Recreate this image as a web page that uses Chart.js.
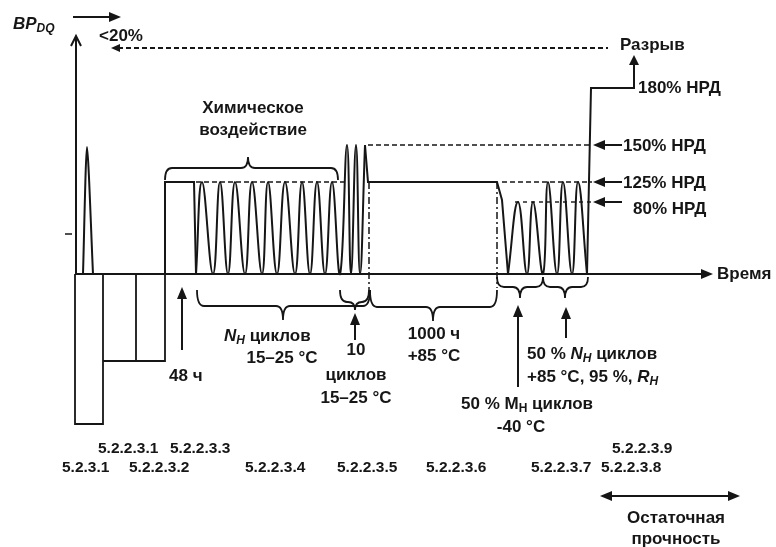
<!DOCTYPE html>
<html lang="ru">
<head>
<meta charset="utf-8">
<title>Последовательность испытаний BP_DQ</title>
<script src="https://cdn.jsdelivr.net/npm/chart.js@4.4.1/dist/chart.umd.min.js"></script>
<style>
  html, body { margin: 0; padding: 0; background: #fff; }
  #wrap { position: relative; width: 776px; height: 547px; }
</style>
</head>
<body>
<div id="wrap"><canvas id="chart"></canvas></div>
<script>
// Время и давление в условных единицах схемы (давление - высота над нулевой линией)
const P80 = 72, P125 = 92, P150 = 129, P180 = 186, P_BURST = 226;

// начальный пик
const proofT = [83, 87, 93];
const proofP = [0, 127, 0];

// прямоугольники ниже нуля (null - разрыв линии)
const vacT = [75, 75, 103, 103, 103, 103, 165, 165, 136, 136, 136];
const vacP = [0, -150, -150, 0, null, -87, -87, 0, null, -87, 0];

// выдержка 48 ч
const holdT = [165, 165, 194, 196];
const holdP = [0, P125, P125, 0];

// циклы при 15-25 °C (химическое воздействие) и 10 циклов до 150 %
const chemT = [196, 202, 213, 220, 228, 235, 245, 252, 262, 268, 277, 285, 295, 302, 310, 317, 325, 332, 340, 347, 351, 356, 360, 365];
const chemP = [0, P125, 0, P125, 0, P125, 0, P125, 0, P125, 0, P125, 0, P125, 0, P125, 0, P125, 0, P150, 0, P150, 0, P150];

// 1000 ч при +85 °C
const heatT = [365, 368, 497, 502, 508];
const heatP = [P150, P125, P125, 74, 0];

// 50 % циклов при -40 °C и 50 % циклов при +85 °C
const climT = [508, 518, 527, 533, 543, 548, 557, 563, 572, 578, 587];
const climP = [0, P80, 0, P80, 0, P125, 0, P125, 0, P125, 0];

// остаточная прочность до разрыва
const burstT = [587, 591, 634, 634];
const burstP = [0, P180, P180, 216];

// пунктирные уровни
const lvlChemT = [180, 345], lvlChemP = [P125, P125];
const lvl150T = [368, 592], lvl150P = [P150, P150];
const lvl125T = [502, 592], lvl125P = [P125, P125];
const lvl80T = [515, 592], lvl80P = [P80, P80];
const lvlBurstT = [118, 608], lvlBurstP = [P_BURST, P_BURST];

// штрихпунктирные границы этапов
const markAT = [369, 369], markAP = [P125, -16];
const markBT = [497, 497], markBP = [P125, -14];

// номера пунктов
const sectionsTop = ['5.2.2.3.1', '5.2.2.3.3', '5.2.2.3.9'];
const sectionsTopT = [98, 170, 612];
const sectionsBottom = ['5.2.3.1', '5.2.2.3.2', '5.2.2.3.4', '5.2.2.3.5', '5.2.2.3.6', '5.2.2.3.7', '5.2.2.3.8'];
const sectionsBottomT = [62, 129, 245, 337, 426, 531, 601];

const INK = '#161616';
const FONT = '"Liberation Sans", Arial, sans-serif';

function pts(t, p) {
  return t.map((v, i) => ({ x: v, y: p[i] }));
}

function line(t, p, extra) {
  return Object.assign({
    data: pts(t, p),
    showLine: true,
    borderColor: INK,
    borderWidth: 2,
    pointRadius: 0,
    tension: 0,
    spanGaps: false
  }, extra || {});
}

function arrowHead(ctx, x, y, dir, len, half) {
  // dir: 'up' | 'down' | 'left' | 'right'
  ctx.beginPath();
  if (dir === 'up') { ctx.moveTo(x, y); ctx.lineTo(x - half, y + len); ctx.lineTo(x + half, y + len); }
  if (dir === 'down') { ctx.moveTo(x, y); ctx.lineTo(x - half, y - len); ctx.lineTo(x + half, y - len); }
  if (dir === 'left') { ctx.moveTo(x, y); ctx.lineTo(x + len, y - half); ctx.lineTo(x + len, y + half); }
  if (dir === 'right') { ctx.moveTo(x, y); ctx.lineTo(x - len, y - half); ctx.lineTo(x - len, y + half); }
  ctx.closePath();
  ctx.fill();
}

function brace(ctx, x1, x2, ye, ym, xt, yt) {
  const r = 7;
  ctx.beginPath();
  ctx.moveTo(x1, ye);
  ctx.quadraticCurveTo(x1, ym, x1 + r, ym);
  ctx.lineTo(xt - r, ym);
  ctx.quadraticCurveTo(xt, ym, xt, yt);
  ctx.quadraticCurveTo(xt, ym, xt + r, ym);
  ctx.lineTo(x2 - r, ym);
  ctx.quadraticCurveTo(x2, ym, x2, ye);
  ctx.stroke();
}

// текст с курсивом и нижними индексами: [текст, 'i' | 's' | 'is' | '']
function rich(ctx, parts, x, y, align, size) {
  size = size || 17;
  const fontOf = st => (st.includes('i') ? 'italic ' : '') + 'bold ' + (st.includes('s') ? Math.round(size * 0.72) : size) + 'px ' + FONT;
  let w = 0;
  parts.forEach(([t, st]) => { ctx.font = fontOf(st); w += ctx.measureText(t).width; });
  let cx = align === 'center' ? x - w / 2 : x;
  ctx.textAlign = 'left';
  ctx.textBaseline = 'middle';
  parts.forEach(([t, st]) => {
    ctx.font = fontOf(st);
    ctx.fillText(t, cx, y + (st.includes('s') ? 5 : 0));
    cx += ctx.measureText(t).width;
  });
}

const annotations = {
  id: 'annotations',
  afterDatasetsDraw(chart) {
    const { ctx } = chart;
    const xs = chart.scales.x, ys = chart.scales.y;
    const X = v => xs.getPixelForValue(v);
    const Y = v => ys.getPixelForValue(v);
    ctx.save();
    ctx.strokeStyle = INK;
    ctx.fillStyle = INK;
    ctx.lineWidth = 2;

    // ось давления
    ctx.beginPath();
    ctx.moveTo(X(76), Y(0)); ctx.lineTo(X(76), Y(238));
    ctx.stroke();
    ctx.beginPath();
    ctx.moveTo(X(71), Y(228)); ctx.lineTo(X(76), Y(238)); ctx.lineTo(X(81), Y(228));
    ctx.stroke();
    ctx.lineWidth = 1.5;
    ctx.beginPath();
    ctx.moveTo(X(65), Y(40)); ctx.lineTo(X(72), Y(40));
    ctx.stroke();

    // ось времени
    ctx.lineWidth = 2;
    ctx.beginPath();
    ctx.moveTo(X(75), Y(0)); ctx.lineTo(X(702), Y(0));
    ctx.stroke();
    arrowHead(ctx, X(713), Y(0), 'right', 12, 5);

    // стрелка BP_DQ
    ctx.beginPath();
    ctx.moveTo(X(73), Y(257)); ctx.lineTo(X(110), Y(257));
    ctx.stroke();
    arrowHead(ctx, X(121), Y(257), 'right', 12, 5);

    // пунктир "Разрыв" - стрелка влево
    arrowHead(ctx, X(111), Y(P_BURST), 'left', 9, 4);

    // стрелка разрыва вверх
    arrowHead(ctx, X(634), Y(219), 'up', 10, 5);

    // стрелки уровней НРД
    [P150, P125, P80].forEach(p => {
      ctx.beginPath();
      ctx.moveTo(X(604), Y(p)); ctx.lineTo(X(622), Y(p));
      ctx.stroke();
      arrowHead(ctx, X(593), Y(p), 'left', 12, 5);
    });

    // стрелки снизу
    [[182, -76, -13], [355, -66, -39], [518, -113, -31], [566, -64, -33]].forEach(([t, p0, p1]) => {
      ctx.beginPath();
      ctx.moveTo(X(t), Y(p0)); ctx.lineTo(X(t), Y(p1) + 10);
      ctx.stroke();
      arrowHead(ctx, X(t), Y(p1), 'up', 12, 5);
    });

    // двусторонняя стрелка остаточной прочности
    ctx.beginPath();
    ctx.moveTo(X(610), Y(-222)); ctx.lineTo(X(730), Y(-222));
    ctx.stroke();
    arrowHead(ctx, X(600), Y(-222), 'left', 12, 5);
    arrowHead(ctx, X(740), Y(-222), 'right', 12, 5);

    // фигурные скобки
    ctx.lineWidth = 1.8;
    brace(ctx, X(165), X(338), Y(94), Y(106), X(248), Y(117));
    brace(ctx, X(197), X(370), Y(-16), Y(-32), X(283), Y(-46));
    brace(ctx, X(340), X(369), Y(-16), Y(-28), X(355), Y(-36));
    brace(ctx, X(370), X(497), Y(-16), Y(-33), X(433), Y(-47));
    brace(ctx, X(497), X(543), Y(-3), Y(-13), X(520), Y(-24));
    brace(ctx, X(543), X(588), Y(-3), Y(-13), X(565), Y(-24));

    // подписи
    rich(ctx, [['BP', 'i'], ['DQ', 'is']], X(13), Y(250), 'left');
    rich(ctx, [['<20%', '']], X(99), Y(238), 'left');
    rich(ctx, [['Разрыв', '']], X(620), Y(229), 'left');
    rich(ctx, [['180% НРД', '']], X(638), Y(186), 'left');
    rich(ctx, [['150% НРД', '']], X(623), Y(128), 'left');
    rich(ctx, [['125% НРД', '']], X(623), Y(91), 'left');
    rich(ctx, [['80% НРД', '']], X(633), Y(65), 'left');
    rich(ctx, [['Время', '']], X(717), Y(0), 'left');
    rich(ctx, [['Химическое', '']], X(253), Y(166), 'center');
    rich(ctx, [['воздействие', '']], X(253), Y(144), 'center');
    rich(ctx, [['48 ч', '']], X(169), Y(-102), 'left');
    rich(ctx, [['N', 'i'], ['H', 'is'], [' циклов', '']], X(224), Y(-62), 'left');
    rich(ctx, [['15–25 °C', '']], X(282), Y(-84), 'center');
    rich(ctx, [['10', '']], X(356), Y(-76), 'center');
    rich(ctx, [['циклов', '']], X(356), Y(-101), 'center');
    rich(ctx, [['15–25 °C', '']], X(356), Y(-124), 'center');
    rich(ctx, [['1000 ч', '']], X(434), Y(-60), 'center');
    rich(ctx, [['+85 °C', '']], X(434), Y(-82), 'center');
    rich(ctx, [['50 % ', ''], ['N', 'i'], ['H', 'is'], [' циклов', '']], X(527), Y(-80), 'left');
    rich(ctx, [['+85 °C, 95 %, ', ''], ['R', 'i'], ['H', 'is']], X(527), Y(-103), 'left');
    rich(ctx, [['50 % M', ''], ['H', 's'], [' циклов', '']], X(461), Y(-130), 'left');
    rich(ctx, [['-40 °C', '']], X(521), Y(-153), 'center');
    rich(ctx, [['Остаточная', '']], X(676), Y(-244), 'center');
    rich(ctx, [['прочность', '']], X(676), Y(-265), 'center');

    sectionsTop.forEach((s, i) => rich(ctx, [[s, '']], X(sectionsTopT[i]), Y(-175), 'left', 15.5));
    sectionsBottom.forEach((s, i) => rich(ctx, [[s, '']], X(sectionsBottomT[i]), Y(-194), 'left', 15.5));

    ctx.restore();
  }
};

new Chart(document.getElementById('chart'), {
  type: 'scatter',
  data: {
    datasets: [
      line(proofT, proofP, { tension: 0.25 }),
      line(vacT, vacP, { borderWidth: 1.8 }),
      line(holdT, holdP),
      line(chemT, chemP, { tension: 0.45 }),
      line(heatT, heatP),
      line(climT, climP, { tension: 0.45 }),
      line(burstT, burstP),
      line(lvlChemT, lvlChemP, { borderWidth: 1.6, borderDash: [5, 3] }),
      line(lvl150T, lvl150P, { borderWidth: 1.6, borderDash: [5, 3] }),
      line(lvl125T, lvl125P, { borderWidth: 1.6, borderDash: [5, 3] }),
      line(lvl80T, lvl80P, { borderWidth: 1.4, borderDash: [4, 4] }),
      line(lvlBurstT, lvlBurstP, { borderWidth: 1.8, borderDash: [5, 3] }),
      line(markAT, markAP, { borderWidth: 1.5, borderDash: [7, 3, 2, 3] }),
      line(markBT, markBP, { borderWidth: 1.5, borderDash: [7, 3, 2, 3] })
    ]
  },
  options: {
    responsive: true,
    maintainAspectRatio: false,
    animation: false,
    events: [],
    layout: { padding: 0 },
    plugins: {
      legend: { display: false },
      tooltip: { enabled: false }
    },
    scales: {
      x: { type: 'linear', min: 0, max: 776, display: false },
      y: { type: 'linear', min: -273, max: 274, display: false }
    }
  },
  plugins: [annotations]
});
</script>
</body>
</html>
